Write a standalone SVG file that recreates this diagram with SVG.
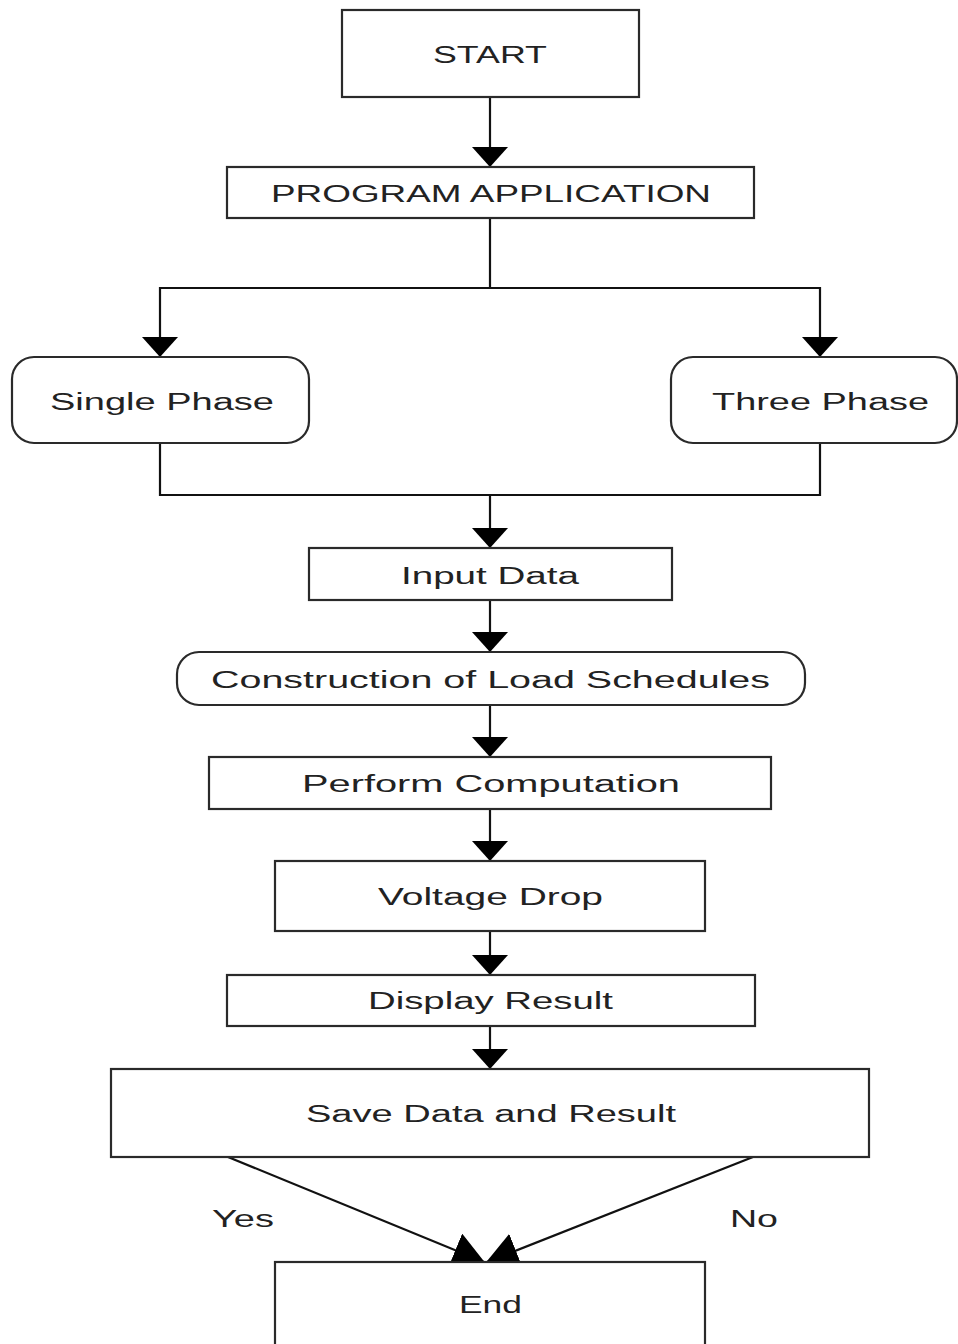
<svg xmlns="http://www.w3.org/2000/svg" width="958" height="1344" viewBox="0 0 958 1344">
<style>
.box{fill:#fff;stroke:#2a2a2a;stroke-width:2.2}
.lbl{font-family:"Liberation Sans",Arial,sans-serif;font-size:23px;fill:#222;text-anchor:start}
.c{fill:none;stroke:#111;stroke-width:2.2}
</style>
<defs>
<marker id="ah" markerUnits="userSpaceOnUse" markerWidth="20" markerHeight="36" refX="19" refY="18" orient="auto" viewBox="0 0 20 36">
<path d="M0,0 L20,18 L0,36 z" fill="#000"/>
</marker>
<marker id="ah2" markerUnits="userSpaceOnUse" markerWidth="32" markerHeight="36" refX="31" refY="18" orient="auto" viewBox="0 0 32 36">
<path d="M0,0 L32,18 L0,36 z" fill="#000"/>
</marker>
</defs>
<rect width="958" height="1344" fill="#fff"/>
<g id="connectors">
<path class="c" d="M490,97 V166" marker-end="url(#ah)"/>
<path class="c" d="M490,218 V288 H160 V356" marker-end="url(#ah)"/>
<path class="c" d="M490,288 H820 V356" marker-end="url(#ah)"/>
<path class="c" d="M160,443 V495 H820 V443"/>
<path class="c" d="M490,495 V547" marker-end="url(#ah)"/>
<path class="c" d="M490,600 V651" marker-end="url(#ah)"/>
<path class="c" d="M490,705 V756" marker-end="url(#ah)"/>
<path class="c" d="M490,809 V860" marker-end="url(#ah)"/>
<path class="c" d="M490,931 V974" marker-end="url(#ah)"/>
<path class="c" d="M490,1026 V1068" marker-end="url(#ah)"/>
<path class="c" d="M228,1157 L484,1262" marker-end="url(#ah2)"/>
<path class="c" d="M753,1157 L487,1262" marker-end="url(#ah2)"/>
<text class="lbl" x="212" y="1227" textLength="62" lengthAdjust="spacingAndGlyphs">Yes</text>
<text class="lbl" x="730" y="1227" textLength="48" lengthAdjust="spacingAndGlyphs">No</text>
</g>
<g id="start"><rect class="box" x="342" y="10" width="297" height="87"/><text class="lbl" x="433" y="63" textLength="114" lengthAdjust="spacingAndGlyphs">START</text></g>
<g id="program"><rect class="box" x="227" y="167" width="527" height="51"/><text class="lbl" x="271" y="202" textLength="440" lengthAdjust="spacingAndGlyphs">PROGRAM APPLICATION</text></g>
<g id="single"><rect class="box" x="12" y="357" width="297" height="86" rx="22"/><text class="lbl" x="50" y="410" textLength="224" lengthAdjust="spacingAndGlyphs">Single Phase</text></g>
<g id="three"><rect class="box" x="671" y="357" width="286" height="86" rx="22"/><text class="lbl" x="712" y="410" textLength="217" lengthAdjust="spacingAndGlyphs">Three Phase</text></g>
<g id="input"><rect class="box" x="309" y="548" width="363" height="52"/><text class="lbl" x="401" y="584" textLength="178" lengthAdjust="spacingAndGlyphs">Input Data</text></g>
<g id="construction"><rect class="box" x="177" y="652" width="628" height="53" rx="22"/><text class="lbl" x="211" y="688" textLength="559" lengthAdjust="spacingAndGlyphs">Construction of Load Schedules</text></g>
<g id="perform"><rect class="box" x="209" y="757" width="562" height="52"/><text class="lbl" x="302" y="792" textLength="378" lengthAdjust="spacingAndGlyphs">Perform Computation</text></g>
<g id="voltage"><rect class="box" x="275" y="861" width="430" height="70"/><text class="lbl" x="378" y="905" textLength="225" lengthAdjust="spacingAndGlyphs">Voltage Drop</text></g>
<g id="display"><rect class="box" x="227" y="975" width="528" height="51"/><text class="lbl" x="368" y="1009" textLength="245" lengthAdjust="spacingAndGlyphs">Display Result</text></g>
<g id="save"><rect class="box" x="111" y="1069" width="758" height="88"/><text class="lbl" x="306" y="1122" textLength="370" lengthAdjust="spacingAndGlyphs">Save Data and Result</text></g>
<g id="end"><rect class="box" x="275" y="1262" width="430" height="100"/><text class="lbl" x="459" y="1313" textLength="63" lengthAdjust="spacingAndGlyphs">End</text></g>
</svg>
